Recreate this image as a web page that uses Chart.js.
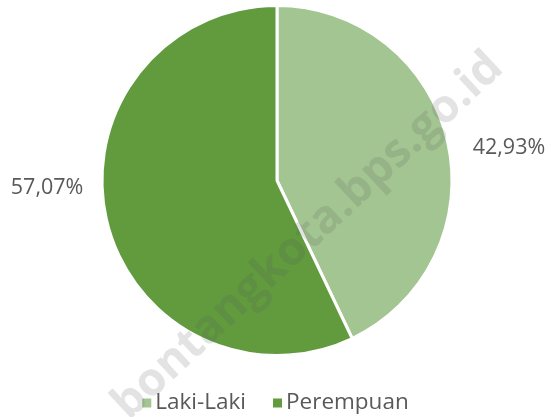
<!DOCTYPE html>
<html>
<head>
<meta charset="utf-8">
<script src="https://cdn.jsdelivr.net/npm/chart.js@4.4.0/dist/chart.umd.min.js"></script>
<style>
  html, body { margin: 0; padding: 0; background: #fff; }
  #wrap { width: 551px; height: 417px; position: relative; }
</style>
</head>
<body>
<div id="wrap"><canvas id="pieChart"></canvas></div>
<script>
// data
var categories = ['Laki-Laki', 'Perempuan'];
var shares = [42.93, 57.07];
var sliceColors = ['#a3c591', '#619b3e'];
// label nudges (dx, dy) relative to the slice edge
var labelNudge = [[25, 6], [-23, -31]];

var textGray = '#595959';
var fontName = '"Open Sans", "Noto Sans", sans-serif';

// percent labels outside the slices
var outsideLabels = {
    id: 'outsideLabels',
    afterDatasetsDraw: function(chart) {
        var ctx = chart.ctx;
        var meta = chart.getDatasetMeta(0);
        ctx.save();
        ctx.font = '21.5px ' + fontName;
        ctx.fillStyle = textGray;
        ctx.textBaseline = 'middle';
        meta.data.forEach(function(arc, i) {
            var p = arc.getProps(['x', 'y', 'startAngle', 'endAngle', 'outerRadius'], true);
            var mid = (p.startAngle + p.endAngle) / 2;
            var ex = p.x + Math.cos(mid) * p.outerRadius;
            var ey = p.y + Math.sin(mid) * p.outerRadius;
            var right = Math.cos(mid) >= 0;
            ctx.textAlign = right ? 'left' : 'right';
            var txt = shares[i].toFixed(2).replace('.', ',') + '%';
            ctx.fillText(txt, ex + labelNudge[i][0], ey + labelNudge[i][1]);
        });
        ctx.restore();
    }
};

// legend drawn under the pie, Excel style
var bottomLegend = {
    id: 'bottomLegend',
    afterDraw: function(chart) {
        var ctx = chart.ctx;
        var labels = chart.data.labels;
        var colors = chart.data.datasets[0].backgroundColor;
        var sq = 9, gap = 4, spacing = 27;
        ctx.save();
        ctx.font = '22.5px ' + fontName;
        ctx.textBaseline = 'middle';
        ctx.textAlign = 'left';
        var widths = labels.map(function(l) { return ctx.measureText(l).width; });
        var total = 0;
        widths.forEach(function(w, i) { total += sq + gap + w + (i ? spacing : 0); });
        var x = chart.width / 2 - total / 2;
        var y = 403;
        labels.forEach(function(l, i) {
            ctx.fillStyle = colors[i];
            ctx.fillRect(x, y - sq / 2, sq, sq);
            ctx.fillStyle = textGray;
            ctx.fillText(l, x + sq + gap, y);
            x += sq + gap + widths[i] + spacing;
        });
        ctx.restore();
    }
};

// faint site watermark across the chart
var watermark = {
    id: 'watermark',
    afterDraw: function(chart) {
        var ctx = chart.ctx;
        ctx.save();
        ctx.translate(308, 236);
        ctx.rotate(-43 * Math.PI / 180);
        ctx.font = 'bold 46px ' + fontName;
        ctx.fillStyle = 'rgba(90, 90, 90, 0.17)';
        ctx.textAlign = 'center';
        ctx.textBaseline = 'middle';
        ctx.fillText('bontangkota.bps.go.id', 0, 0);
        ctx.restore();
    }
};

var ctx = document.getElementById('pieChart').getContext('2d');
var chart = new Chart(ctx, {
    type: 'pie',
    data: {
        labels: categories,
        datasets: [{
            data: shares,
            backgroundColor: sliceColors,
            borderColor: '#ffffff',
            borderWidth: 3
        }]
    },
    options: {
        responsive: true,
        maintainAspectRatio: false,
        animation: false,
        layout: {
            padding: { top: 4, bottom: 60, left: 3, right: 0 }
        },
        plugins: {
            legend: { display: false },
            tooltip: { enabled: false }
        }
    },
    plugins: [outsideLabels, bottomLegend, watermark]
});
</script>
</body>
</html>
